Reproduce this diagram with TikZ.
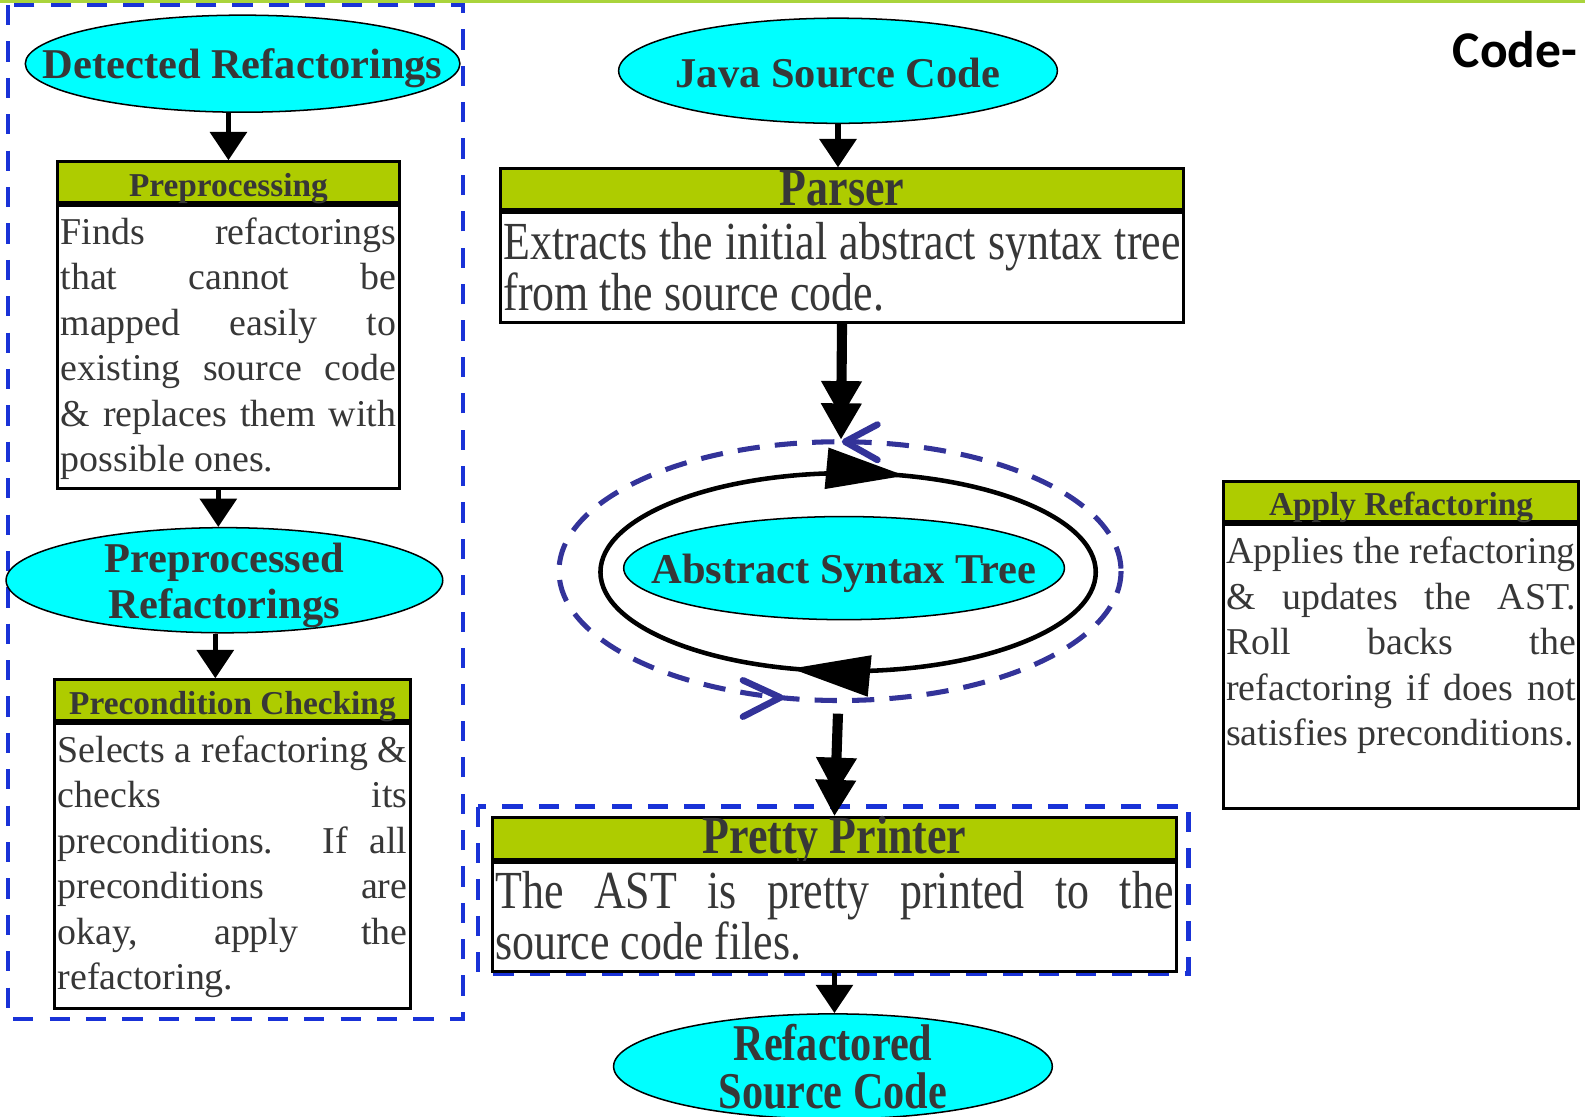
\documentclass[tikz,border=0pt]{standalone}
\usepackage{fontspec}
\setmainfont{Liberation Serif}
\newfontfamily\narrowserif[FakeStretch=0.82]{Liberation Serif}
\newfontfamily\slidefont{Carlito}
\usetikzlibrary{shapes.geometric,arrows.meta,decorations.markings}

\definecolor{hdrgreen}{RGB}{174,204,0}
\definecolor{topgreen}{RGB}{170,212,60}
\definecolor{txtgray}{RGB}{55,55,55}
\definecolor{cyanfill}{RGB}{0,255,255}
\definecolor{frameblue}{RGB}{25,50,215}
\definecolor{loopnavy}{RGB}{51,51,153}

\tikzset{
	ell/.style={ellipse, draw=black, line width=1.5pt, fill=cyanfill, inner sep=0pt},
	elltext/.style={text=txtgray, align=center, yshift=-5pt, font=\bfseries\fontsize{42}{45}\selectfont},
	hdr/.style={rectangle, draw=black, line width=3pt, fill=hdrgreen, inner sep=0pt, text=txtgray, minimum height=40pt, font=\bfseries\fontsize{33}{36}\selectfont, text height=33pt, text depth=5pt},
	body/.style={rectangle, draw=black, line width=3pt, fill=white, inner xsep=3pt, inner ysep=2pt, anchor=north, align=justify, text=txtgray, font=\fontsize{37.5}{45}\selectfont, text height=36.5pt, text depth=239.5pt},
	flow/.style={line width=5pt, -{Triangle[length=28pt,width=36pt]}},
	bigflow/.style={line width=10pt, -{Triangle[length=36pt,width=38pt,sep=-14pt]Triangle[length=36pt,width=38pt]}},
	dashframe/.style={draw=frameblue, line width=4.5pt, dash pattern=on 20pt off 16pt},
	loopline/.style={draw=black, line width=4.5pt},
	loopdash/.style={draw=loopnavy, line width=5pt, dash pattern=on 22pt off 15pt},
	chevron/.style={draw=loopnavy, line width=6.5pt, line cap=round, line join=round},
	looptri/.tip={Triangle[length=78pt,width=40pt]}
}

\begin{document}
\begin{tikzpicture}[x=1pt,y=-1pt]
	\useasboundingbox (0,0) rectangle (1568,1105);
	%slide bar and title
	\fill[topgreen] (0,0) rectangle (1568,3);
	\node[anchor=base west, inner sep=0pt, font=\slidefont\bfseries\fontsize{51}{51}\selectfont] (slidetitle) at (1437,67) {Code-};

	%dashed frames
	\draw[dashframe] (8,5) rectangle (458,1008);
	\draw[dashframe] (473,798) rectangle (1176,963);

	%Detected Refactorings -> Preprocessing
	\node[ell, minimum width=430pt, minimum height=96pt, label={[elltext, name=detreftxt]center:Detected Refactorings}] (detref) at (240,63) {};
	\node[hdr, minimum width=338pt] (prehdr) at (226,180) {Preprocessing};
	\node[body, text width=332pt] (prebody) at (prehdr.south) {Finds refactorings\linebreak that cannot be\linebreak mapped easily to\linebreak existing source code\linebreak \& replaces them with\linebreak possible ones.};

	%Preprocessed Refactorings -> Precondition Checking
	\node[ell, minimum width=432pt, minimum height=104pt, label={[elltext, name=pprefxt]center:Preprocessed\\Refactorings}] (ppref) at (222,574) {};
	\node[hdr, minimum width=352pt] (chkhdr) at (230,692.5) {Precondition Checking};
	\node[body, text width=346pt, text depth=241.5pt] (chkbody) at (chkhdr.south) {Selects a refactoring \&\linebreak checks its\linebreak preconditions. If all\linebreak preconditions are\linebreak okay, apply the\linebreak refactoring.};

	\draw[flow] (detref.south -| prehdr.north) -- (prehdr.north);
	\draw[flow] ([xshift=-10pt]prebody.south) -- ([xshift=-10pt]prebody.south |- ppref.north);
	\draw[flow] ([xshift=-9pt]ppref.south) -- ([xshift=-9pt]ppref.south |- chkhdr.north);

	%Java Source Code -> Parser
	\node[ell, minimum width=434pt, minimum height=104pt, label={[elltext, name=javatxt, yshift=3pt]center:Java Source Code}] (java) at (829,70) {};
	\node[hdr, minimum width=676pt, font=\narrowserif\bfseries\fontsize{53}{53}\selectfont, text height=36pt, text depth=3pt] (parsehdr) at (833,187) {Parser};
	\node[body, text width=670pt, font=\narrowserif\fontsize{53}{51}\selectfont, text height=44.5pt, text depth=60.5pt] (parsebody) at (parsehdr.south) {Extracts the initial abstract syntax tree\linebreak from the source code.};
	\draw[flow] (java.south) -- (java.south |- parsehdr.north);

	%AST loop
	\coordinate (looptop) at (832,435);
	\coordinate (loopbot) at (829,706);
	\draw[loopdash] (831,565) ellipse [x radius=278, y radius=128];
	\draw[chevron] (868,420) -- (836,437) -- (868,455);
	\draw[chevron] (735,673) -- (772,690) -- (735,709);
	\draw[loopline, postaction={decorate}, decoration={markings,
		mark=at position 0.30 with {\arrow{looptri}},
		mark=at position 0.80 with {\arrow{looptri}}}]
		(839,566) ellipse [x radius=245, y radius=98];
	\node[ell, minimum width=436pt, minimum height=102pt, label={[elltext, name=asttxt]center:Abstract Syntax Tree}] (ast) at (835,562) {};
	\draw[bigflow] (parsebody.south) -- (looptop);

	%Pretty Printer -> Refactored Source Code
	\node[hdr, minimum width=677pt, minimum height=41pt, font=\narrowserif\bfseries\fontsize{53}{53}\selectfont, text height=35pt, text depth=5pt] (pphdr) at (825.5,829.5) {Pretty Printer};
	\node[body, text width=671pt, font=\narrowserif\fontsize{53}{51}\selectfont, text height=43.5pt, text depth=60.5pt] (ppbody) at (pphdr.south) {The AST is pretty printed to the\linebreak source code files.};
	\draw[bigflow] (loopbot) -- (pphdr.north);
	\node[ell, minimum width=434pt, minimum height=104pt, label={[elltext, name=refsrctxt, yshift=5pt, font=\narrowserif\bfseries\fontsize{51}{47}\selectfont]center:Refactored\\Source Code}] (refsrc) at (824,1055) {};
	\draw[flow] (ppbody.south) -- (ppbody.south |- refsrc.north);

	%Apply Refactoring
	\node[hdr, minimum width=352pt] (applyhdr) at (1386,496) {Apply Refactoring};
	\node[body, text width=346pt, text depth=240.5pt] (applybody) at (applyhdr.south) {\parfillskip=0pt Applies the refactoring\linebreak \& updates the AST.\linebreak Roll backs the\linebreak refactoring if does not\linebreak satisfies preconditions.};
\end{tikzpicture}
\end{document}
